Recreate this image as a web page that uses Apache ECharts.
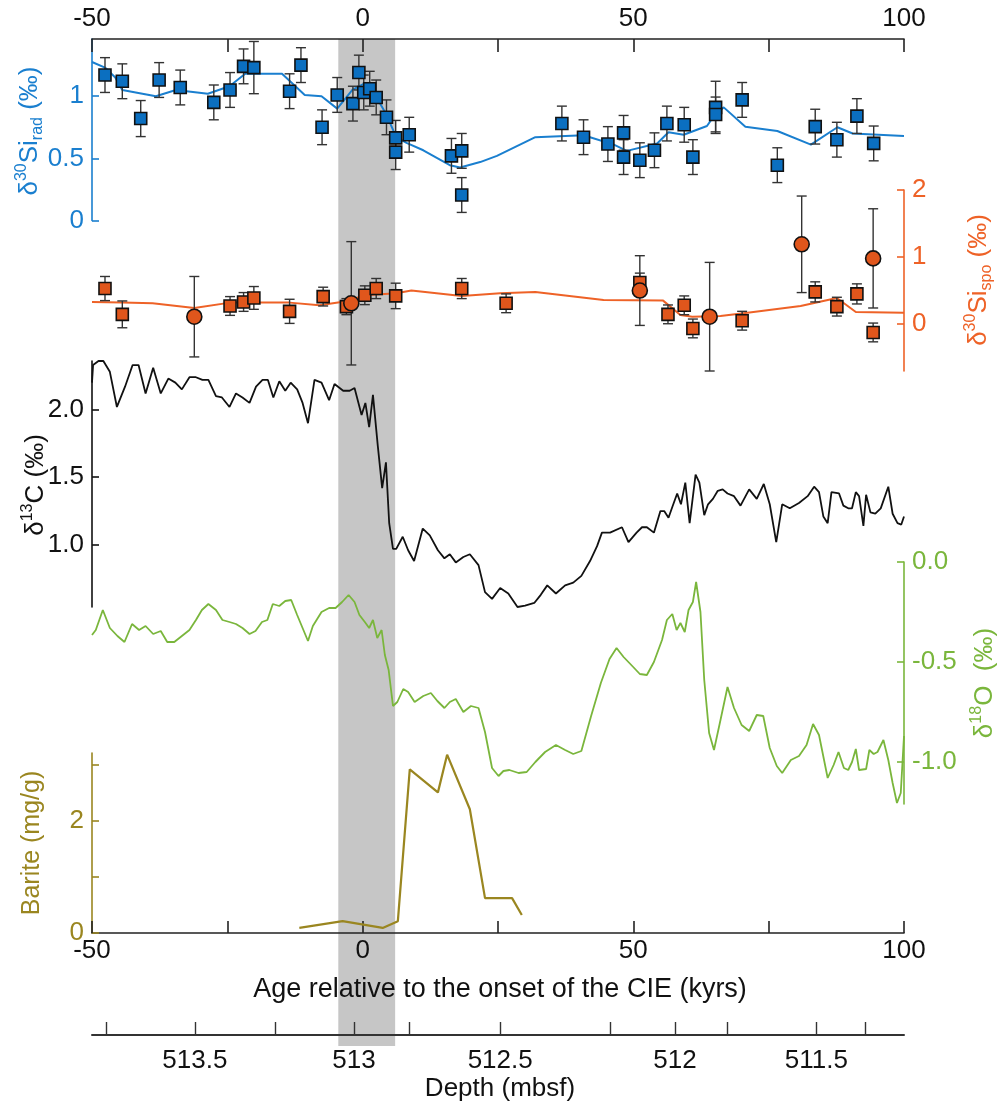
<!DOCTYPE html>
<html>
<head>
<meta charset="utf-8">
<script src="https://cdn.jsdelivr.net/npm/echarts@6/dist/echarts.min.js"></script>
<style>html,body{margin:0;padding:0;background:#fff}#c{width:1000px;height:1106px}</style>
</head>
<body>
<div id="c"></div>
<script>
// ---------- DATA (age in kyr relative to CIE onset) ----------
const ageTicksTop = [-50, 0, 50, 100];
const bandStart = -4.5, bandEnd = 6.0;

// δ30Si radiolarians (squares with error bars)
const siRadAge = [-47.6,-44.4,-41.0,-37.6,-33.7,-27.5,-24.5,-22.0,-20.1,-13.5,-11.4,-7.5,-4.7,-1.8,-0.7,0.2,1.3,2.5,4.4,6.1,8.6,6.1,16.4,18.3,18.3,36.8,40.8,45.3,48.2,48.2,51.2,53.9,56.2,59.4,61.0,65.2,65.2,70.1,76.6,83.6,87.6,91.3,94.4];
const siRadVal = [1.17,1.12,0.82,1.13,1.07,0.95,1.05,1.24,1.23,1.04,1.25,0.75,1.01,0.94,1.19,1.03,1.06,0.99,0.83,0.665,0.69,0.55,0.52,0.56,0.205,0.78,0.67,0.615,0.705,0.51,0.485,0.565,0.78,0.77,0.51,0.91,0.853,0.97,0.445,0.755,0.65,0.84,0.62];
const siRadErr = [0.14,0.14,0.145,0.14,0.14,0.14,0.14,0.14,0.21,0.14,0.14,0.14,0.14,0.14,0.14,0.14,0.14,0.14,0.14,0.14,0.14,0.14,0.14,0.14,0.14,0.14,0.14,0.14,0.14,0.14,0.14,0.14,0.14,0.14,0.14,0.21,0.14,0.14,0.14,0.14,0.14,0.14,0.14];
// δ30Si radiolarians smoothed line
const siRadLineAge = [-50,-47.6,-45.7,-44.4,-38.2,-34.5,-28.6,-24.6,-21.7,-14.9,-10.7,-7.6,-4.7,-1.9,0.2,2.5,4.4,6.2,8.1,11.2,16.1,18.0,21.7,24.8,31.9,40.8,42.0,46.4,48.8,54.4,56.5,59.3,63.6,65.2,66.7,70.7,76.6,82.8,87.7,90.5,100];
const siRadLineVal = [1.275,1.23,1.15,1.05,1.0,1.05,1.02,1.08,1.18,1.18,1.01,1.0,0.90,1.05,1.10,0.995,0.85,0.67,0.625,0.565,0.445,0.427,0.47,0.52,0.67,0.685,0.67,0.61,0.56,0.62,0.71,0.69,0.76,0.86,0.91,0.755,0.72,0.61,0.75,0.70,0.68];

// δ30Si sponges (squares and circles with error bars)
const spoSqAge = [-47.6,-44.4,-24.5,-22.0,-20.1,-13.5,-7.3,-3.0,0.4,2.5,6.1,18.3,26.5,51.2,56.4,59.4,61.0,70.1,83.6,87.6,91.3,94.3];
const spoSqVal = [0.53,0.145,0.27,0.33,0.39,0.19,0.41,0.26,0.43,0.53,0.42,0.53,0.31,0.62,0.145,0.28,-0.065,0.05,0.48,0.26,0.45,-0.125];
const spoSqErr = [0.18,0.2,0.14,0.14,0.17,0.18,0.14,0.12,0.14,0.15,0.19,0.15,0.14,0.14,0.14,0.14,0.14,0.14,0.15,0.14,0.15,0.14];
const spoCircAge = [-31.1,-2.1,51.2,64.1,81.1,94.3];
const spoCircVal = [0.11,0.31,0.50,0.11,1.19,0.98];
const spoCircErr = [0.6,0.92,0.52,0.81,0.72,0.74];
const spoLineAge = [-50,-44.4,-38.8,-31.1,-24.5,-13.5,-8.0,-3.0,0.4,6.2,9.0,18.3,25.4,31.9,44.5,55.5,58.7,60.9,66.1,71.1,80.9,87.6,91.1,100];
const spoLineVal = [0.33,0.32,0.31,0.24,0.32,0.32,0.28,0.34,0.43,0.46,0.50,0.42,0.46,0.48,0.36,0.35,0.135,0.11,0.12,0.17,0.27,0.39,0.18,0.17];

// δ13C
const c13Age = [-50.0,-49.8,-48.8,-47.9,-46.7,-45.4,-43.9,-42.5,-41.4,-40.1,-38.7,-37.3,-35.9,-34.6,-33.4,-32.0,-30.8,-29.6,-28.5,-27.1,-26.0,-24.6,-23.4,-22.2,-20.9,-19.7,-18.5,-17.5,-16.5,-15.4,-14.3,-13.3,-12.1,-11.1,-10.1,-8.9,-7.6,-6.2,-5.2,-3.6,-2.4,-1.5,-0.2,0.5,1.2,1.9,2.8,3.6,4.3,4.9,5.6,6.2,7.4,8.4,9.5,11.1,12.4,13.9,15.1,16.1,17.2,18.6,19.8,21.4,22.6,23.9,25.4,26.9,28.6,30.0,31.7,32.9,34.1,35.7,37.4,38.9,40.4,42.0,43.3,44.2,45.7,47.9,49.1,50.6,51.6,52.5,53.8,55.0,55.7,56.5,57.2,58.1,58.8,59.6,60.4,61.5,62.2,63.1,63.8,64.7,65.6,66.5,67.4,68.6,69.8,71.4,72.8,74.1,75.2,76.4,77.5,78.9,80.6,82.2,83.4,84.3,85.1,85.9,86.6,88.0,88.8,89.7,90.4,91.1,91.7,92.5,93.0,93.8,94.7,95.7,97.1,97.9,98.8,99.5,100.0];
const c13Val = [2.20,2.33,2.36,2.36,2.28,2.02,2.17,2.33,2.33,2.12,2.31,2.12,2.23,2.20,2.15,2.24,2.24,2.22,2.22,2.10,2.09,2.02,2.12,2.09,2.05,2.17,2.22,2.22,2.09,2.21,2.14,2.20,2.15,2.05,1.90,2.22,2.20,2.07,2.19,2.14,2.14,2.16,1.96,2.05,1.87,2.11,1.73,1.42,1.61,1.16,0.97,0.97,1.06,0.96,0.88,1.12,1.07,0.96,0.90,0.93,0.87,0.91,0.93,0.85,0.65,0.60,0.68,0.64,0.54,0.55,0.57,0.63,0.70,0.64,0.70,0.72,0.77,0.88,0.99,1.09,1.09,1.13,1.02,1.09,1.13,1.13,1.09,1.25,1.25,1.20,1.28,1.38,1.30,1.46,1.16,1.52,1.46,1.22,1.30,1.34,1.40,1.41,1.38,1.36,1.29,1.41,1.34,1.45,1.30,1.02,1.30,1.27,1.31,1.36,1.43,1.39,1.21,1.16,1.39,1.38,1.29,1.27,1.27,1.39,1.36,1.14,1.37,1.24,1.23,1.27,1.43,1.23,1.16,1.15,1.21];

// δ18O
const o18Age = [-50.0,-49.3,-48.0,-46.7,-45.3,-44.0,-42.6,-41.3,-40.1,-38.7,-37.3,-36.1,-34.8,-33.4,-32.0,-30.8,-29.7,-28.5,-27.1,-25.9,-24.6,-23.4,-22.2,-20.9,-19.8,-18.6,-17.6,-16.6,-15.4,-14.3,-13.2,-12.1,-11.1,-10.1,-9.2,-7.6,-6.2,-5.0,-3.8,-2.6,-1.5,-0.6,0.4,1.2,1.9,2.7,3.5,4.1,4.8,5.6,6.4,7.5,8.4,9.6,11.2,12.6,13.8,15.1,16.1,17.2,18.6,20.0,21.4,22.6,23.9,25.1,26.0,27.1,28.8,30.3,31.9,33.7,35.7,37.4,38.9,40.4,42.2,44.0,45.6,46.9,48.2,49.8,51.2,52.5,53.8,55.3,56.2,57.2,58.0,58.7,59.5,60.2,61.0,61.6,62.4,63.1,64.0,64.9,66.1,67.4,68.6,70.0,71.4,72.8,74.0,75.2,76.5,77.5,79.1,80.6,82.0,83.2,84.3,85.9,87.0,87.9,88.9,89.7,90.4,91.1,91.7,93.0,93.6,94.4,95.1,96.2,97.1,97.9,98.7,99.4,100.0];
const o18Val = [-0.365,-0.34,-0.24,-0.33,-0.37,-0.40,-0.31,-0.34,-0.32,-0.36,-0.345,-0.40,-0.40,-0.37,-0.34,-0.29,-0.24,-0.21,-0.24,-0.29,-0.30,-0.31,-0.33,-0.36,-0.345,-0.30,-0.29,-0.21,-0.22,-0.195,-0.19,-0.265,-0.33,-0.395,-0.32,-0.25,-0.23,-0.23,-0.20,-0.165,-0.20,-0.265,-0.30,-0.33,-0.29,-0.38,-0.34,-0.465,-0.54,-0.72,-0.70,-0.635,-0.65,-0.70,-0.67,-0.655,-0.695,-0.73,-0.70,-0.685,-0.75,-0.72,-0.73,-0.85,-1.03,-1.07,-1.045,-1.04,-1.055,-1.05,-1.00,-0.95,-0.915,-0.94,-0.96,-0.945,-0.77,-0.605,-0.485,-0.43,-0.475,-0.52,-0.56,-0.565,-0.50,-0.39,-0.29,-0.26,-0.34,-0.305,-0.35,-0.24,-0.20,-0.10,-0.25,-0.59,-0.855,-0.94,-0.79,-0.625,-0.73,-0.815,-0.845,-0.765,-0.77,-0.93,-1.02,-1.055,-0.99,-0.97,-0.915,-0.81,-0.865,-1.08,-1.015,-0.95,-1.03,-1.04,-1.00,-0.935,-1.04,-1.035,-0.94,-0.96,-0.95,-0.89,-0.99,-1.105,-1.205,-1.155,-0.87];

// Barite (mg/g)
const bariteAge = [-11.7,-3.7,3.7,6.5,8.7,13.9,15.6,19.8,22.6,27.6,29.4];
const bariteVal = [0.09,0.21,0.09,0.21,2.91,2.5,3.17,2.2,0.62,0.62,0.32];

// Depth axis (mbsf) ticks, placed at the corresponding age
const depthTickAge = [-47.4,-31.0,-16.1,-1.6,8.6,25.4,45.8,57.7,67.3,83.8,92.8];
const depthLabelAge = [-31.0,-1.6,25.4,57.7,83.8];
const depthLabels = ['513.5','513','512.5','512','511.5'];

// ---------- STYLE ----------
const FONT = "'Liberation Sans', Arial, sans-serif";
const FS = 26;
const BLUE = '#1a7fcf', BLUE_SQ = '#0b6fc0';
const ORANGE = '#ee6227', ORANGE_SQ = '#e0561c';
const GREEN = '#7ab63c';
const OLIVE = '#9a8620';
const ERR = '#333';

const zip2 = (a, b) => a.map((v, i) => [v, b[i]]);
const zip3 = (a, b, c) => a.map((v, i) => [v, b[i], c[i]]);

function errRender(params, api) {
  const x = api.value(0), y = api.value(1), e = api.value(2);
  const t = api.coord([x, y + e]), b = api.coord([x, y - e]);
  const w = 5, st = { stroke: ERR, lineWidth: 1.4 };
  return { type: 'group', children: [
    { type: 'line', shape: { x1: t[0], y1: t[1], x2: b[0], y2: b[1] }, style: st },
    { type: 'line', shape: { x1: t[0] - w, y1: t[1], x2: t[0] + w, y2: t[1] }, style: st },
    { type: 'line', shape: { x1: b[0] - w, y1: b[1], x2: b[0] + w, y2: b[1] }, style: st }
  ]};
}
function bandRender(params, api) {
  const a = api.coord([api.value(0), 1]), b = api.coord([api.value(1), 0]);
  return { type: 'rect', shape: { x: a[0], y: a[1], width: b[0] - a[0], height: b[1] - a[1] }, style: { fill: '#c6c6c6' } };
}

const L = 92, W = 812;
const grids = [
  { left: L, width: W, top: 39, height: 181.5 },   // 0 Si rad
  { left: L, width: W, top: 190, height: 181 },    // 1 Si spo
  { left: L, width: W, top: 361, height: 246 },    // 2 d13C
  { left: L, width: W, top: 562, height: 242 },    // 3 d18O
  { left: L, width: W, top: 753, height: 180 },    // 4 barite
  { left: L, width: W, top: 1000, height: 35 },    // 5 depth
  { left: L, width: W, top: 39, height: 1007 }     // 6 band
];

const hiddenX = i => ({ type: 'value', gridIndex: i, min: -50, max: 100, show: false, axisLine: { onZero: false } });
const hiddenY = i => ({ type: 'value', gridIndex: i, min: 0, max: 1, show: false, axisLine: { onZero: false } });

function yAx(i, pos, min, max, color, ticks, labels, fmt) {
  return {
    type: 'value', gridIndex: i, position: pos, min, max,
    axisLine: { show: true, onZero: false, lineStyle: { color, width: 1.6 } },
    axisTick: { show: true, inside: true, length: 7, customValues: ticks, lineStyle: { color, width: 1.6 } },
    axisLabel: { show: true, customValues: labels, color, fontSize: FS, fontFamily: FONT, margin: 8, formatter: fmt },
    splitLine: { show: false }
  };
}

const titleRich = (color) => ({
  m: { fontSize: 26, fontFamily: FONT, fill: color, lineHeight: 32 },
  sup: { fontSize: 16, fontFamily: FONT, fill: color, verticalAlign: 'top', lineHeight: 32 },
  sub: { fontSize: 16, fontFamily: FONT, fill: color, verticalAlign: 'bottom', lineHeight: 32 }
});

const option = {
  animation: false,
  backgroundColor: '#fff',
  grid: grids,
  xAxis: [
    { type: 'value', gridIndex: 0, position: 'top', min: -50, max: 100, interval: 25,
      axisLine: { onZero: false, lineStyle: { color: '#222', width: 1.6 } },
      axisTick: { inside: true, length: 13, lineStyle: { color: '#222', width: 1.6 } },
      axisLabel: { color: '#111', fontSize: FS, fontFamily: FONT, margin: 7,
        formatter: v => (ageTicksTop.indexOf(v) >= 0 ? String(v) : '') },
      splitLine: { show: false } },
    hiddenX(1), hiddenX(2), hiddenX(3),
    { type: 'value', gridIndex: 4, position: 'bottom', min: -50, max: 100, interval: 25,
      axisLine: { onZero: false, lineStyle: { color: '#222', width: 1.6 } },
      axisTick: { inside: true, length: 12, lineStyle: { color: '#222', width: 1.6 } },
      axisLabel: { color: '#111', fontSize: FS, fontFamily: FONT, margin: 5,
        formatter: v => (ageTicksTop.indexOf(v) >= 0 ? String(v) : '') },
      splitLine: { show: false } },
    { type: 'value', gridIndex: 5, position: 'bottom', min: -50, max: 100,
      axisLine: { onZero: false, lineStyle: { color: '#333', width: 2 } },
      axisTick: { inside: true, length: 13, customValues: depthTickAge, lineStyle: { color: '#333', width: 1.4 } },
      axisLabel: { customValues: depthLabelAge, color: '#111', fontSize: FS, fontFamily: FONT, margin: 13,
        formatter: v => { let bi = 0, bd = 1e9; depthLabelAge.forEach((a, i) => { const d = Math.abs(a - v); if (d < bd) { bd = d; bi = i; } }); return depthLabels[bi]; } },
      splitLine: { show: false } },
    hiddenX(6)
  ],
  yAxis: [
    yAx(0, 'left', 0, 1.46, BLUE, [0, 0.5, 1], [0, 0.5, 1], v => String(v)),
    yAx(1, 'right', -0.7, 2, ORANGE, [0, 1, 2], [0, 1, 2], v => String(v)),
    yAx(2, 'left', 0.54, 2.36, '#111', [1, 1.5, 2], [1, 1.5, 2], v => v.toFixed(1)),
    yAx(3, 'right', -1.21, 0, GREEN, [-1, -0.5, 0], [-1, -0.5, 0], v => v.toFixed(1)),
    yAx(4, 'left', 0, 3.2, OLIVE, [0, 1, 2, 3], [0, 2], v => String(v)),
    hiddenY(5), hiddenY(6)
  ],
  graphic: [
    { type: 'text', x: 30, y: 131, rotation: Math.PI / 2, z: 100,
      style: { text: '{m|δ}{sup|30}{m|Si}{sub|rad}{m| (‰)}', align: 'center', verticalAlign: 'middle', rich: titleRich(BLUE) } },
    { type: 'text', x: 979, y: 280, rotation: Math.PI / 2, z: 100,
      style: { text: '{m|δ}{sup|30}{m|Si}{sub|spo}{m| (‰)}', align: 'center', verticalAlign: 'middle', rich: titleRich(ORANGE) } },
    { type: 'text', x: 36, y: 485, rotation: Math.PI / 2, z: 100,
      style: { text: '{m|δ}{sup|13}{m|C (‰)}', align: 'center', verticalAlign: 'middle', rich: titleRich('#111') } },
    { type: 'text', x: 985, y: 683, rotation: Math.PI / 2, z: 100,
      style: { text: '{m|δ}{sup|18}{m|O  (‰)}', align: 'center', verticalAlign: 'middle', rich: titleRich(GREEN) } },
    { type: 'text', x: 32, y: 843, rotation: Math.PI / 2, z: 100,
      style: { text: 'Barite (mg/g)', align: 'center', verticalAlign: 'middle', fontSize: 25, fontFamily: FONT, fill: OLIVE } },
    { type: 'text', x: 500, y: 990, z: 100,
      style: { text: 'Age relative to the onset of the CIE (kyrs)', align: 'center', verticalAlign: 'middle', fontSize: 27, fontFamily: FONT, fill: '#111' } },
    { type: 'text', x: 500, y: 1089, z: 100,
      style: { text: 'Depth (mbsf)', align: 'center', verticalAlign: 'middle', fontSize: 26, fontFamily: FONT, fill: '#111' } }
  ],
  series: [
    { type: 'custom', xAxisIndex: 6, yAxisIndex: 6, z: -10, silent: true, renderItem: bandRender,
      encode: { x: [0, 1] }, data: [[bandStart, bandEnd]] },
    // Si rad
    { type: 'line', xAxisIndex: 0, yAxisIndex: 0, data: zip2(siRadLineAge, siRadLineVal), showSymbol: false, symbol: 'none',
      lineStyle: { color: BLUE, width: 2 }, z: 2 },
    { type: 'custom', xAxisIndex: 0, yAxisIndex: 0, renderItem: errRender, encode: { x: 0, y: 1 },
      data: zip3(siRadAge, siRadVal, siRadErr), z: 3 },
    { type: 'scatter', xAxisIndex: 0, yAxisIndex: 0, data: zip2(siRadAge, siRadVal), symbol: 'rect', symbolSize: 12,
      itemStyle: { color: BLUE_SQ, borderColor: '#111', borderWidth: 1.6, opacity: 1 }, z: 4 },
    // Si spo
    { type: 'line', xAxisIndex: 1, yAxisIndex: 1, data: zip2(spoLineAge, spoLineVal), showSymbol: false, symbol: 'none',
      lineStyle: { color: ORANGE, width: 2 }, z: 2 },
    { type: 'custom', xAxisIndex: 1, yAxisIndex: 1, renderItem: errRender, encode: { x: 0, y: 1 },
      data: zip3(spoSqAge, spoSqVal, spoSqErr), z: 3 },
    { type: 'custom', xAxisIndex: 1, yAxisIndex: 1, renderItem: errRender, encode: { x: 0, y: 1 },
      data: zip3(spoCircAge, spoCircVal, spoCircErr), z: 3 },
    { type: 'scatter', xAxisIndex: 1, yAxisIndex: 1, data: zip2(spoSqAge, spoSqVal), symbol: 'rect', symbolSize: 12,
      itemStyle: { color: ORANGE_SQ, borderColor: '#111', borderWidth: 1.6, opacity: 1 }, z: 4 },
    { type: 'scatter', xAxisIndex: 1, yAxisIndex: 1, data: zip2(spoCircAge, spoCircVal), symbol: 'circle', symbolSize: 15,
      itemStyle: { color: ORANGE_SQ, borderColor: '#111', borderWidth: 1.6, opacity: 1 }, z: 5 },
    // d13C
    { type: 'line', xAxisIndex: 2, yAxisIndex: 2, data: zip2(c13Age, c13Val), showSymbol: false, symbol: 'none',
      lineStyle: { color: '#111', width: 1.8 }, z: 2 },
    // d18O
    { type: 'line', xAxisIndex: 3, yAxisIndex: 3, data: zip2(o18Age, o18Val), showSymbol: false, symbol: 'none',
      lineStyle: { color: GREEN, width: 1.8 }, z: 2 },
    // barite
    { type: 'line', xAxisIndex: 4, yAxisIndex: 4, data: zip2(bariteAge, bariteVal), showSymbol: false, symbol: 'none',
      lineStyle: { color: OLIVE, width: 2.2 }, z: 2 }
  ]
};

const chart = echarts.init(document.getElementById('c'), null, { renderer: 'canvas' });
chart.setOption(option);
</script>
</body>
</html>
